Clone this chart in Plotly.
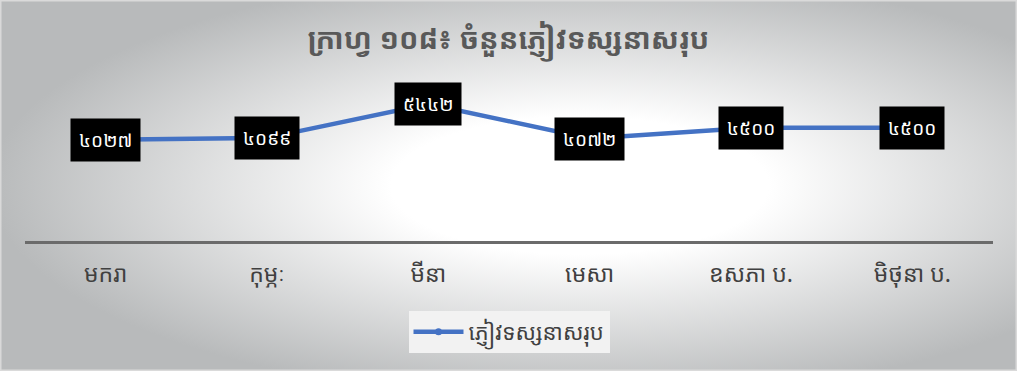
import base64
import plotly.graph_objects as go

categories = ["មករា", "កុម្ភៈ", "មីនា", "មេសា", "ឧសភា ប.", "មិថុនា ប."]
visitors = [4027, 4099, 5442, 4072, 4500, 4500]
series_name = "ភ្ញៀវទស្សនាសរុប"
title_text = "ក្រាហ្វ ១០៨៖ ចំនួនភ្ញៀវទស្សនាសរុប"

KH = str.maketrans("0123456789", "០១២៣៤៥៦៧៨៩")
def kh(n):
    return str(n).translate(KH)

W, H = 1017, 371
ml, mr, mt, mb = 25, 24, 90, 130
pw, ph = W - ml - mr, H - mt - mb

svg = f'''<svg xmlns="http://www.w3.org/2000/svg" width="{W}" height="{H}" viewBox="0 0 {W} {H}" preserveAspectRatio="none">
<defs><radialGradient id="g" cx="0.57" cy="0.5" r="0.58" gradientUnits="objectBoundingBox">
<stop offset="0" stop-color="#ffffff"/><stop offset="0.32" stop-color="#ffffff"/>
<stop offset="1" stop-color="#b8babb"/></radialGradient></defs>
<rect x="0" y="0" width="{W}" height="{H}" fill="url(#g)"/></svg>'''
src = "data:image/svg+xml;base64," + base64.b64encode(svg.encode()).decode()

FONT = "Noto Sans Khmer, Khmer OS, Noto Sans, DejaVu Sans, sans-serif"

fig = go.Figure()
fig.add_trace(go.Scatter(
    x=categories, y=visitors, mode="lines+markers", name=series_name,
    line=dict(color="#4472C4", width=4.5),
    marker=dict(color="#4472C4", size=7),
))

for c, v in zip(categories, visitors):
    fig.add_annotation(x=c, y=v, text=kh(v), showarrow=False,
                       font=dict(color="white", size=19, family=FONT),
                       bgcolor="black", borderpad=8)

fig.update_layout(
    width=W, height=H,
    margin=dict(l=ml, r=mr, t=mt, b=mb),
    paper_bgcolor="white", plot_bgcolor="rgba(0,0,0,0)",
    title=dict(text=f"<b>{title_text}</b>", x=0.5, xanchor="center", y=1 - 39 / H, yanchor="middle",
               font=dict(size=29, color="#595959", family=FONT)),
    images=[dict(source=src, xref="paper", yref="paper", x=-ml / pw, y=1 + mt / ph,
                 sizex=W / pw, sizey=H / ph, sizing="stretch", xanchor="left", yanchor="top",
                 layer="below")],
    shapes=[dict(type="rect", xref="paper", yref="paper", x0=-ml / pw + 0.0008, x1=1 + mr / pw - 0.0008,
                 y0=-mb / ph + 0.005, y1=1 + mt / ph - 0.005, line=dict(color="#dadada", width=1.5))],
    xaxis=dict(showgrid=False, showline=True, linecolor="#6b6b6b", linewidth=3,
               range=[-0.5, len(categories) - 0.5],
               ticks="", tickfont=dict(size=23, color="#404040", family=FONT),
               ticklabelstandoff=10, automargin=False),
    yaxis=dict(range=[0, 6000], visible=False, showgrid=False),
    showlegend=True,
    legend=dict(orientation="h", x=0.5, xanchor="center", y=-(332 - 241) / ph, yanchor="middle",
                bgcolor="#f2f2f2", font=dict(size=22, color="#404040", family=FONT),
                itemwidth=50),
)

fig.write_html("out.html", config={"displayModeBar": False},
               post_script="document.body.style.margin='0';document.body.style.padding='0';")
